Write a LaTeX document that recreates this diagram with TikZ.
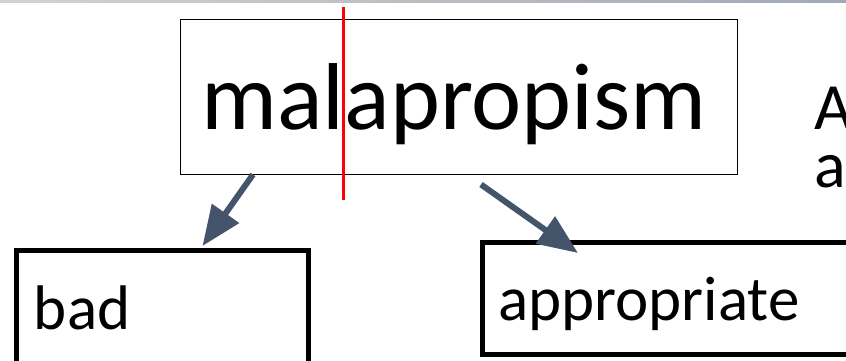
\documentclass[tikz,border=0pt]{standalone}
\usepackage{fontspec}
\setmainfont{Carlito}
\usetikzlibrary{arrows.meta}
\definecolor{slate}{HTML}{44546A}

\begin{document}
\begin{tikzpicture}[x=1pt,y=-1pt,outer sep=0pt]
\useasboundingbox (0,0) rectangle (846,361);
\clip (0,0) rectangle (846,361);
\shade[left color=gray!35, middle color=slate, right color=slate!50] (0,0) rectangle (846,2.5);
\node[draw=black,line width=1.3pt,text width=515pt,minimum height=155pt,inner xsep=21pt,inner ysep=0pt,
  align=left,text height=65pt,text depth=0pt,font=\fontsize{95}{95}\selectfont] (word) at (459,97) {malapropism};
\node[anchor=base west,font=\fontsize{66}{66}\selectfont,inner sep=0pt] (defa) at (814,129) {A};
\node[anchor=base west,font=\fontsize{66}{66}\selectfont,inner sep=0pt] (defb) at (814,187) {a};
\draw[red,line width=3pt] (343,7) -- (343,200);
\begin{scope}[every node/.style={draw=black,line width=5pt,anchor=north west,align=left,
  inner ysep=0pt,font=\fontsize{63}{63}\selectfont}]
	\node[text width=257pt,inner xsep=17.5pt,minimum height=150pt,text height=45pt,text depth=38pt] (bad) at (16.5,250.5) {bad};
	\node[text width=390pt,inner xsep=15.5pt,minimum height=112pt,text height=45pt,text depth=1pt] (appr) at (482.5,242.5) {appropriate};
\end{scope}
\begin{scope}[>={Triangle[length=40pt,width=32pt]}, every edge/.style={draw=slate,line width=6pt}]
	\path [->] ([xshift=-206pt]word.south) edge ([shift={(40,-4.5)}]bad.north);
	\path [->] ([shift={(22,10)}]word.south) edge ([shift={(-115,10.5)}]appr.north);
\end{scope}
\end{tikzpicture}
\end{document}
